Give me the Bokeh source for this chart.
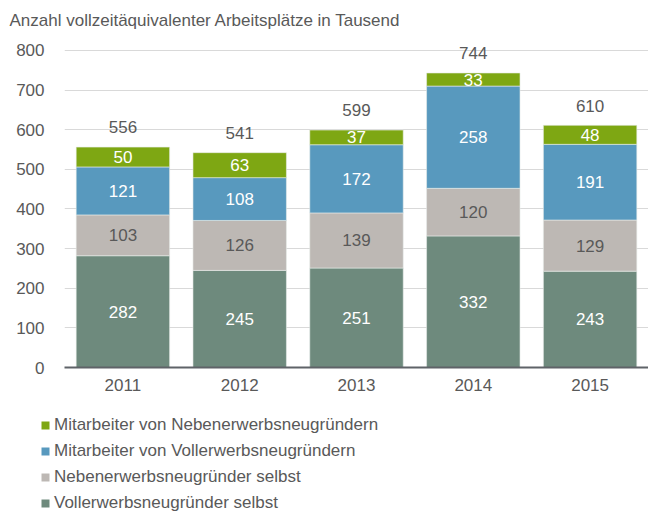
import numpy as np
from bokeh.plotting import figure
from bokeh.layouts import column
from bokeh.models import ColumnDataSource, Legend, LegendItem, FixedTicker
from bokeh.core.properties import value
from bokeh.embed import file_html
from bokeh.resources import INLINE

years = ["2011", "2012", "2013", "2014", "2015"]
voll_selbst = [282, 245, 251, 332, 243]
neben_selbst = [103, 126, 139, 120, 129]
mit_voll = [121, 108, 172, 258, 191]
mit_neben = [50, 63, 37, 33, 48]
totals = [556, 541, 599, 744, 610]
series_names = [
    "Vollerwerbsneugründer selbst",
    "Nebenerwerbsneugründer selbst",
    "Mitarbeiter von Vollerwerbsneugründern",
    "Mitarbeiter von Nebenerwerbsneugründern",
]
series_values = [voll_selbst, neben_selbst, mit_voll, mit_neben]
colors = ["#6E8A7D", "#BDB8B4", "#5899BE", "#7EA713"]
label_colors = ["white", "#595959", "white", "white"]
y_ticks = [0, 100, 200, 300, 400, 500, 600, 700, 800]

FONT = "Liberation Sans"
TXT = "#595959"

p = figure(x_range=years, y_range=(0, 830), width=648, height=400,
           output_backend="svg", toolbar_location=None,
           min_border_left=64, min_border_right=0, min_border_top=38,
           min_border_bottom=33)
p.frame_align = False

p.title.text = "Anzahl vollzeitäquivalenter Arbeitsplätze in Tausend"
p.title.text_font = FONT
p.title.text_font_size = "17px"
p.title.text_font_style = "normal"
p.title.text_color = TXT
p.title.offset = -55
p.title.standoff = 17

p.outline_line_color = None
p.xgrid.grid_line_color = None
p.ygrid.grid_line_color = "#D9D9D9"
p.ygrid.grid_line_width = 1
p.yaxis.ticker = FixedTicker(ticks=y_ticks)
p.yaxis.axis_line_color = None
p.yaxis.major_tick_line_color = None
p.yaxis.minor_tick_line_color = None
p.yaxis.major_label_text_font = FONT
p.yaxis.major_label_text_font_size = "17px"
p.yaxis.major_label_text_color = TXT
p.yaxis.major_label_standoff = 14

p.xaxis.axis_line_color = "#5F6368"
p.xaxis.axis_line_width = 2
p.xaxis.major_tick_line_color = None
p.xaxis.minor_tick_line_color = None
p.xaxis.major_label_text_font = FONT
p.xaxis.major_label_text_font_size = "17px"
p.xaxis.major_label_text_color = TXT
p.xaxis.major_label_standoff = 5

bottoms = np.zeros(len(years))
for name, vals, col, lcol in zip(series_names, series_values, colors, label_colors):
    vals = np.array(vals, dtype=float)
    tops = bottoms + vals
    src = ColumnDataSource(dict(x=years, bottom=bottoms, top=tops,
                                mid=(bottoms + tops) / 2,
                                lab=[str(int(v)) for v in vals]))
    p.vbar(x="x", bottom="bottom", top="top", width=0.8, source=src,
           fill_color=col, line_color="#E8EDEA", line_width=0.6)
    p.text(x="x", y="mid", text="lab", source=src, text_align="center",
           text_baseline="middle", text_color=lcol, text_font=value(FONT),
           text_font_size="17px")
    bottoms = tops

tsrc = ColumnDataSource(dict(x=years, y=totals, lab=[str(t) for t in totals]))
p.text(x="x", y="y", text="lab", source=tsrc, text_align="center",
       text_baseline="middle", text_color=TXT, text_font=value(FONT),
       text_font_size="17px", y_offset=-20)

# legend panel below the chart
lg = figure(width=648, height=113, x_range=(0, 1), y_range=(0, 1),
            x_axis_location=None, y_axis_location=None,
            output_backend="svg", toolbar_location=None, min_border=0)
lg.frame_align = False
lg.grid.visible = False
lg.outline_line_color = None
items = []
for name, col in zip(series_names, colors):
    # swatch renderer kept outside the visible range; only its legend glyph shows
    r = lg.quad(left=[2], right=[3], bottom=[2], top=[3],
                fill_color=col, line_color=None)
    items.append(LegendItem(label=name, renderers=[r]))
items.reverse()
legend = Legend(items=items, orientation="vertical", location=(40, 0),
                label_text_font=FONT, label_text_font_size="17px",
                label_text_color=TXT, glyph_width=10, glyph_height=10,
                label_height=20, spacing=6, label_standoff=4,
                border_line_color=None, background_fill_alpha=0,
                padding=0, margin=0)
lg.add_layout(legend, "center")

layout = column(p, lg, spacing=0)
open("out.html", "w").write(file_html(layout, INLINE))
